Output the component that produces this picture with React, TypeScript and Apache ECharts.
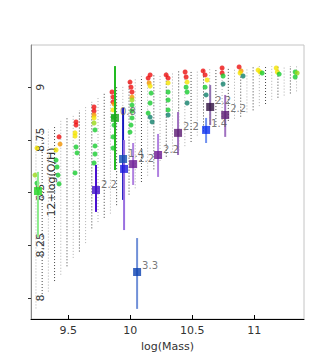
import React, { useEffect, useRef } from "react";
import * as echarts from "echarts";

// model grid columns (dotted lines): mass, low O/H, high O/H
const modelMass = [9.24, 9.29, 9.34, 9.39, 9.44, 9.49, 9.54, 9.59, 9.64, 9.69, 9.74, 9.79, 9.84, 9.89, 9.94, 9.99, 10.04, 10.09, 10.14, 10.19, 10.24, 10.29, 10.34, 10.39, 10.44, 10.49, 10.54, 10.59, 10.64, 10.69, 10.74, 10.79, 10.84, 10.89, 10.94, 10.99, 11.04, 11.09, 11.14, 11.19, 11.24, 11.29, 11.34];
const modelLow = [7.95, 7.99, 8.03, 8.08, 8.11, 8.15, 8.19, 8.22, 8.26, 8.33, 8.36, 8.38, 8.4, 8.44, 8.47, 8.49, 8.52, 8.55, 8.58, 8.61, 8.65, 8.67, 8.69, 8.7, 8.72, 8.74, 8.77, 8.79, 8.81, 8.82, 8.83, 8.84, 8.85, 8.86, 8.88, 8.89, 8.91, 8.92, 8.94, 8.95, 8.96, 8.97, 8.98];
const modelHigh = [8.78, 8.79, 8.8, 8.82, 8.84, 8.86, 8.87, 8.89, 8.91, 8.93, 8.95, 8.97, 8.98, 9.0, 9.01, 9.03, 9.04, 9.05, 9.05, 9.06, 9.06, 9.07, 9.07, 9.08, 9.08, 9.08, 9.08, 9.08, 9.09, 9.09, 9.09, 9.09, 9.09, 9.09, 9.09, 9.1, 9.1, 9.1, 9.1, 9.1, 9.1, 9.1, 9.1];

// coloured model points: mass, O/H, level (0 teal .. 5 red)
const pointMass = [
  9.248, 9.232, 9.248,
  9.426, 9.434, 9.402, 9.402, 9.41, 9.418, 9.426,
  9.563, 9.563, 9.555, 9.555, 9.563, 9.571, 9.555,
  9.708, 9.708, 9.708, 9.708, 9.708, 9.716, 9.716, 9.716, 9.708,
  9.853, 9.861, 9.861, 9.869, 9.861, 9.861, 9.869, 9.861, 9.861,
  9.998, 10.006, 10.014, 10.014, 10.014, 10.014, 10.014, 10.014, 10.006, 9.998,
  10.16, 10.144, 10.152, 10.16, 10.168, 10.16, 10.144, 10.16, 10.176,
  10.289, 10.305, 10.305, 10.305, 10.305, 10.305, 10.305,
  10.442, 10.45, 10.458, 10.45, 10.458, 10.458,
  10.587, 10.603, 10.619, 10.603, 10.611,
  10.74, 10.74, 10.748, 10.748,
  10.877, 10.893, 10.885, 10.909,
  11.03, 11.046, 11.063,
  11.176, 11.185, 11.2,
  11.329, 11.345, 11.329,
];
const pointOH = [
  8.711, 8.583, 8.545,
  8.764, 8.73, 8.702, 8.654, 8.621, 8.583, 8.541,
  8.835, 8.82, 8.783, 8.768, 8.716, 8.688, 8.593,
  8.906, 8.887, 8.868, 8.854, 8.83, 8.797, 8.721, 8.683, 8.64,
  8.977, 8.953, 8.93, 8.92, 8.892, 8.858, 8.82, 8.764, 8.711,
  9.024, 9.0, 8.977, 8.953, 8.939, 8.915, 8.887, 8.854, 8.82, 8.787,
  9.058, 9.043, 9.02, 9.005, 8.972, 8.925, 8.877, 8.858, 8.835,
  9.058, 9.043, 9.02, 8.977, 8.939, 8.892, 8.868,
  9.072, 9.048, 9.024, 9.0, 8.977, 8.925,
  9.077, 9.058, 9.034, 9.0, 8.963,
  9.091, 9.067, 9.053, 9.015,
  9.096, 9.077, 9.067, 9.053,
  9.081, 9.072, 9.067,
  9.091, 9.072, 9.062,
  9.072, 9.067, 9.048,
];
const pointLevel = [
  3, 2, 1,
  5, 4, 3, 1, 1, 1, 1,
  5, 5, 3, 3, 1, 1, 1,
  5, 5, 4, 3, 2, 1, 1, 1, 1,
  5, 5, 5, 4, 3, 1, 1, 1, 1,
  5, 5, 5, 4, 2, 1, 1, 1, 1, 1,
  5, 5, 4, 3, 1, 1, 1, 0, 0,
  5, 5, 3, 1, 1, 1, 0,
  5, 5, 3, 1, 1, 0,
  5, 5, 3, 1, 0,
  5, 5, 1, 0,
  5, 4, 3, 0,
  3, 3, 1,
  3, 3, 1,
  1, 2, 1,
];

// observed galaxies (squares with error bars)
const obsMass = [9.256, 9.877, 9.724, 9.942, 9.95, 10.023, 10.224, 10.385, 10.611, 10.644, 10.765, 10.055];
const obsOH = [8.507, 8.854, 8.512, 8.659, 8.612, 8.635, 8.678, 8.783, 8.797, 8.906, 8.868, 8.123];
const obsLow = [8.289, 8.607, 8.408, 8.465, 8.322, 8.536, 8.574, 8.678, 8.735, 8.82, 8.764, 7.948];
const obsHigh = [8.598, 9.1, 8.631, 8.901, 8.749, 8.735, 8.778, 8.882, 8.854, 9.01, 8.963, 8.284];
const obsLabel = ["", "0.8", "2.2", "1.4", "", "2.2", "2.2", "2.2", "1.4", "2.2", "2.2", "3.3"];
const obsType = [0, 1, 2, 3, 4, 5, 5, 6, 7, 8, 6, 9];

const xTicks = [9.5, 10, 10.5, 11];
const yTicks = [8, 8.25, 8.5, 8.75, 9];

const squareColors = ["#22d422", "#1aa81a", "#4010c8", "#1050b0", "#1a1ae0", "#6a1890", "#5a1a70", "#0a30f0", "#301040", "#0a40b0"];
const barColors = ["#8cec8c", "#22bb22", "#4a10d0", "#1818c0", "#9a70e0", "#b080e0", "#a070c0", "#7090f0", "#9070b0", "#7090d8"];

export default function App() {
  const ref = useRef<HTMLDivElement>(null);
  useEffect(() => {
    if (!ref.current) return;
    const chart = echarts.init(ref.current, undefined, { renderer: "svg" });
    const font = "DejaVu Sans";
    const modelData = modelMass.map((m, i) => [m, modelLow[i], modelHigh[i], i]);
    const pointData = pointMass.map((m, i) => [m, pointOH[i], pointLevel[i]]);
    const barData = obsMass.map((m, i) => [m, obsLow[i], obsHigh[i], obsType[i]]);
    const squareData = obsMass.map((m, i) => ({
      value: [m, obsOH[i], obsLabel[i]],
      itemStyle: { color: squareColors[obsType[i]] },
    }));
    chart.setOption({
      animation: false,
      backgroundColor: "#fff",
      grid: { left: 31, top: 45, width: 273, height: 274, show: true, borderColor: "#c4c4c4", borderWidth: 1 },
      xAxis: {
        type: "value",
        min: 9.2,
        max: 11.4,
        name: "log(Mass)",
        nameLocation: "middle",
        nameGap: 19,
        nameTextStyle: { color: "#333", fontSize: 11, fontFamily: font },
        axisLine: { show: true, lineStyle: { color: "#000", width: 1 } },
        axisTick: { show: true, inside: true, length: 4, lineStyle: { color: "#000" }, customValues: xTicks },
        axisLabel: { color: "#333", fontSize: 11, fontFamily: font, margin: 6, customValues: xTicks, formatter: (v: number) => String(v) },
        splitLine: { show: false },
      },
      yAxis: {
        type: "value",
        min: 7.9,
        max: 9.2,
        name: "12+log(O/H)",
        nameLocation: "middle",
        nameRotate: 90,
        nameGap: -26,
        nameMoveOverlap: false,
        nameTextStyle: { color: "#333", fontSize: 11, fontFamily: font },
        axisLine: { show: true, lineStyle: { color: "#888", width: 1 } },
        axisTick: { show: true, inside: false, length: 3, lineStyle: { color: "#333" }, customValues: yTicks },
        axisLabel: { inside: true, rotate: 90, color: "#333", fontSize: 11, fontFamily: font, margin: 4, customValues: yTicks, formatter: (v: number) => String(v) },
        splitLine: { show: false },
      },
      visualMap: {
        show: false,
        type: "continuous",
        seriesIndex: 1,
        dimension: 2,
        min: 0,
        max: 5,
        inRange: { color: ["#10806a", "#18cc30", "#9ad818", "#f4e400", "#f49400", "#ee1010"] },
      },
      series: [
        {
          type: "custom",
          clip: true,
          data: modelData,
          renderItem: (params: any, api: any) => {
            const x = api.value(0);
            const p1 = api.coord([x, api.value(1)]);
            const p2 = api.coord([x, api.value(2)]);
            const idx = api.value(3);
            return {
              type: "line",
              shape: { x1: p1[0], y1: p1[1], x2: p2[0], y2: p2[1] },
              style: { stroke: idx % 2 ? "#444" : "#b0b0b0", lineWidth: 1, lineDash: [1, 2] },
            };
          },
        },
        {
          type: "scatter",
          symbol: "circle",
          symbolSize: 5,
          data: pointData,
          z: 3,
        },
        {
          type: "custom",
          clip: true,
          data: barData,
          z: 4,
          renderItem: (params: any, api: any) => {
            const x = api.value(0);
            const p1 = api.coord([x, api.value(1)]);
            const p2 = api.coord([x, api.value(2)]);
            return {
              type: "line",
              shape: { x1: p1[0], y1: p1[1], x2: p2[0], y2: p2[1] },
              style: { stroke: barColors[api.value(3)], lineWidth: 2 },
            };
          },
        },
        {
          type: "scatter",
          symbol: "rect",
          symbolSize: 8,
          z: 5,
          data: squareData,
          label: {
            show: true,
            position: [9, -7],
            align: "left",
            verticalAlign: "top",
            color: "#555",
            fontSize: 10,
            fontFamily: font,
            formatter: (p: any) => p.value[2],
          },
        },
      ],
    });
    return () => chart.dispose();
  }, []);
  return <div ref={ref} style={{ position: "fixed", left: 0, top: 0, width: 332, height: 362 }} />;
}
